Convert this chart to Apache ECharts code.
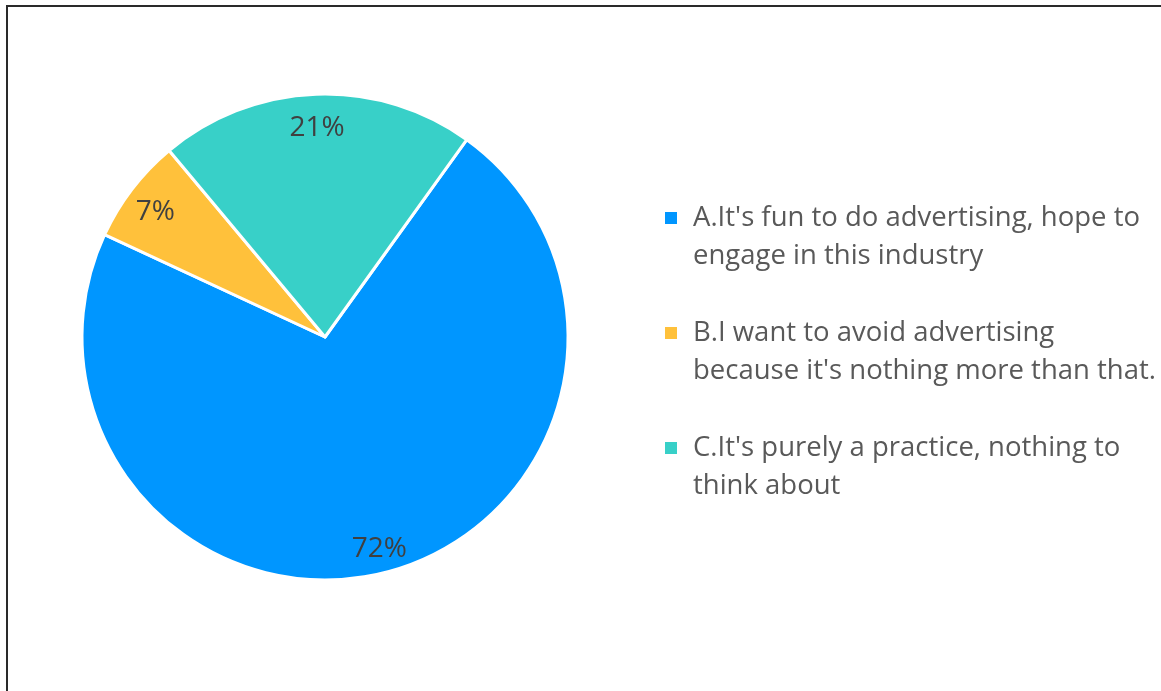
<!DOCTYPE html>
<html>
<head>
<meta charset="utf-8">
<script src="https://cdn.jsdelivr.net/npm/echarts@6/dist/echarts.min.js"></script>
<style>
  html, body { margin: 0; padding: 0; background: #fff; }
  #chart { width: 1161px; height: 691px; }
</style>
</head>
<body>
<div id="chart"></div>
<script>
// Survey answers and their shares (percent)
const categories = [
  "A.It's fun to do advertising, hope to\nengage in this industry",
  "B.I want to avoid advertising\nbecause it's nothing more than that.",
  "C.It's purely a practice, nothing to\nthink about"
];
const shares = [72, 7, 21];
const colors = ['#0096FF', '#FFC13B', '#38D0C8'];

const pieData = categories.map((name, i) => ({ name: name, value: shares[i] }));

const center = [325, 337];
const startAngle = 54.3;
const fontStack = '"Open Sans", "Noto Sans", sans-serif';

// Legend text: an empty first line keeps the first text line level with the swatch
function legendText(name) {
  return '\n' + name.split('\n').map(line => '{t|' + line + '}').join('\n');
}

const chart = echarts.init(document.getElementById('chart'), null, { renderer: 'canvas' });

chart.setOption({
  backgroundColor: '#ffffff',
  color: colors,
  animation: false,
  graphic: [{
    type: 'rect',
    shape: { x: 7, y: 6, width: 1300, height: 900 },
    style: { fill: 'none', stroke: '#2a2a2a', lineWidth: 2 },
    silent: true,
    z: 100
  }],
  legend: {
    orient: 'vertical',
    left: 663,
    top: 161,
    padding: 0,
    itemWidth: 14,
    itemHeight: 14,
    itemGap: 1,
    icon: 'rect',
    selectedMode: false,
    data: categories,
    formatter: legendText,
    textStyle: {
      fontFamily: fontStack,
      fontSize: 27.5,
      color: '#595959',
      lineHeight: 38,
      rich: {
        t: {
          fontFamily: fontStack,
          fontSize: 27.5,
          color: '#595959',
          lineHeight: 38,
          padding: [0, 0, 0, 10]
        }
      }
    }
  },
  series: [
    {
      // the slices themselves
      type: 'pie',
      center: center,
      radius: [0, 243],
      startAngle: startAngle,
      clockwise: true,
      avoidLabelOverlap: false,
      itemStyle: { borderColor: '#ffffff', borderWidth: 3 },
      label: { show: false },
      labelLine: { show: false },
      emphasis: { disabled: true },
      data: pieData
    },
    {
      // transparent ring that carries the percentage labels near the rim
      type: 'pie',
      center: center,
      radius: [178, 244],
      startAngle: startAngle,
      clockwise: true,
      silent: true,
      avoidLabelOverlap: false,
      itemStyle: { color: 'rgba(0,0,0,0)', borderWidth: 0 },
      label: {
        show: true,
        position: 'inside',
        offset: [0, 5],
        formatter: p => p.value + '%',
        fontFamily: fontStack,
        fontSize: 28,
        color: '#404040'
      },
      labelLine: { show: false },
      emphasis: { disabled: true },
      data: pieData
    }
  ]
});
</script>
</body>
</html>
